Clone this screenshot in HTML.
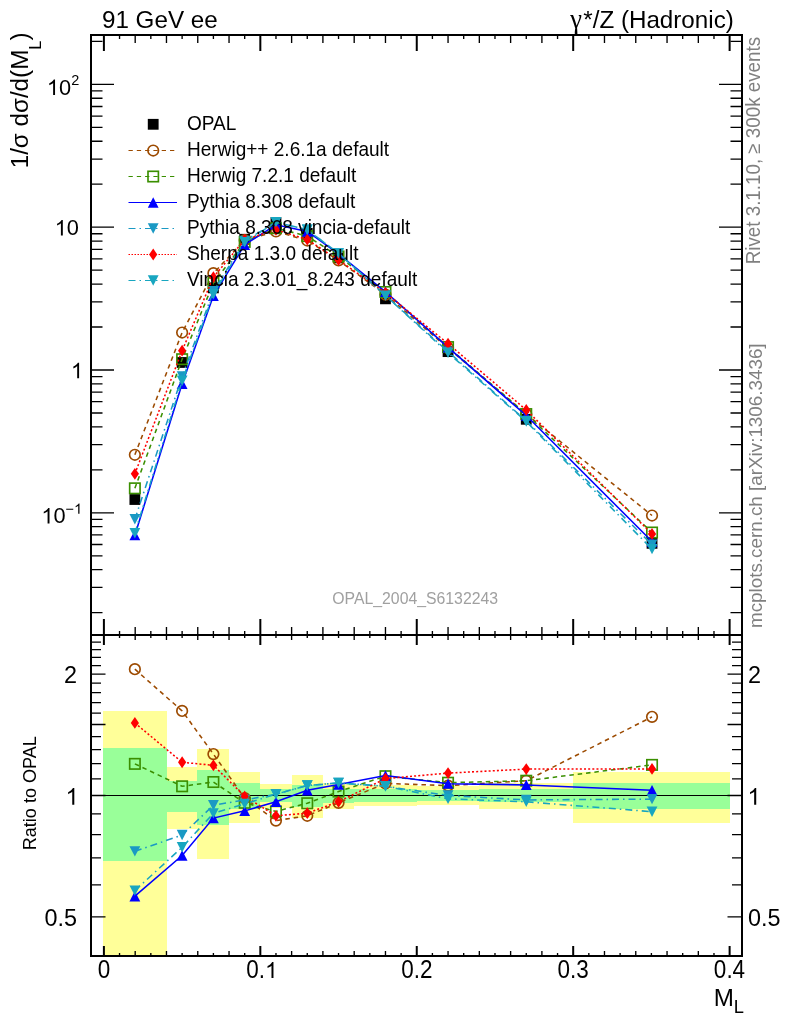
<!DOCTYPE html>
<html><head><meta charset="utf-8"><title>MC plot</title>
<style>html,body{margin:0;padding:0;background:#fff}body{width:786px;height:1024px;overflow:hidden}svg text{font-family:"Liberation Sans",sans-serif}</style></head>
<body>
<svg width="786" height="1024" viewBox="0 0 786 1024" style="display:block;will-change:transform">
<rect width="786" height="1024" fill="#fff"/>
<defs><clipPath id="cm"><rect x="91.0" y="35.0" width="651.0" height="600.0"/></clipPath><clipPath id="cr"><rect x="91.0" y="635.0" width="651.0" height="321.0"/></clipPath></defs>
<g clip-path="url(#cr)" shape-rendering="crispEdges">
<rect x="103.0" y="711.3" width="63.9" height="252.3" fill="#FFFF99"/>
<rect x="166.9" y="767.3" width="30.3" height="61.8" fill="#FFFF99"/>
<rect x="197.2" y="749.0" width="31.8" height="110.0" fill="#FFFF99"/>
<rect x="229.0" y="772.0" width="31.3" height="50.7" fill="#FFFF99"/>
<rect x="260.3" y="784.1" width="31.3" height="23.5" fill="#FFFF99"/>
<rect x="291.6" y="775.3" width="31.3" height="42.9" fill="#FFFF99"/>
<rect x="322.9" y="783.3" width="31.3" height="25.3" fill="#FFFF99"/>
<rect x="354.2" y="785.3" width="62.6" height="21.0" fill="#FFFF99"/>
<rect x="416.8" y="786.1" width="62.6" height="19.3" fill="#FFFF99"/>
<rect x="479.3" y="782.6" width="93.9" height="26.8" fill="#FFFF99"/>
<rect x="573.2" y="772.1" width="156.4" height="50.4" fill="#FFFF99"/>
<rect x="103.0" y="748.0" width="63.9" height="112.9" fill="#99FF99"/>
<rect x="166.9" y="780.6" width="30.3" height="31.2" fill="#99FF99"/>
<rect x="197.2" y="770.4" width="31.8" height="54.4" fill="#99FF99"/>
<rect x="229.0" y="783.2" width="31.3" height="25.5" fill="#99FF99"/>
<rect x="260.3" y="789.0" width="31.3" height="13.3" fill="#99FF99"/>
<rect x="291.6" y="784.6" width="31.3" height="22.4" fill="#99FF99"/>
<rect x="322.9" y="788.6" width="31.3" height="14.0" fill="#99FF99"/>
<rect x="354.2" y="789.3" width="62.6" height="12.6" fill="#99FF99"/>
<rect x="416.8" y="790.3" width="62.6" height="10.5" fill="#99FF99"/>
<rect x="479.3" y="788.9" width="93.9" height="13.5" fill="#99FF99"/>
<rect x="573.2" y="783.1" width="156.4" height="25.7" fill="#99FF99"/>
</g>
<line x1="91.0" y1="795.5" x2="742.0" y2="795.5" stroke="#000" stroke-width="1.1"/>
<g clip-path="url(#cm)">
<rect x="129.47" y="494.11" width="10.80" height="10.80" fill="#000"/>
<rect x="176.72" y="357.08" width="10.80" height="10.80" fill="#000"/>
<rect x="208.00" y="282.46" width="10.80" height="10.80" fill="#000"/>
<rect x="239.29" y="233.88" width="10.80" height="10.80" fill="#000"/>
<rect x="270.57" y="217.20" width="10.80" height="10.80" fill="#000"/>
<rect x="301.86" y="227.92" width="10.80" height="10.80" fill="#000"/>
<rect x="333.14" y="252.45" width="10.80" height="10.80" fill="#000"/>
<rect x="380.07" y="293.44" width="10.80" height="10.80" fill="#000"/>
<rect x="442.65" y="346.22" width="10.80" height="10.80" fill="#000"/>
<rect x="520.86" y="413.89" width="10.80" height="10.80" fill="#000"/>
<rect x="646.63" y="537.95" width="10.80" height="10.80" fill="#000"/>
<path d="M134.87 454.78L182.12 332.52L213.40 273.19L244.69 240.22L275.97 231.47L307.26 240.51L338.54 260.45L385.47 294.55L448.05 348.12L526.26 414.06L652.03 515.50" fill="none" stroke="#9C4A00" stroke-width="1.55" stroke-dasharray="4.5,3.9"/>
<circle cx="134.87" cy="454.78" r="5.30" fill="none" stroke="#9C4A00" stroke-width="1.65"/>
<circle cx="182.12" cy="332.52" r="5.30" fill="none" stroke="#9C4A00" stroke-width="1.65"/>
<circle cx="213.40" cy="273.19" r="5.30" fill="none" stroke="#9C4A00" stroke-width="1.65"/>
<circle cx="244.69" cy="240.22" r="5.30" fill="none" stroke="#9C4A00" stroke-width="1.65"/>
<circle cx="275.97" cy="231.47" r="5.30" fill="none" stroke="#9C4A00" stroke-width="1.65"/>
<circle cx="307.26" cy="240.51" r="5.30" fill="none" stroke="#9C4A00" stroke-width="1.65"/>
<circle cx="338.54" cy="260.45" r="5.30" fill="none" stroke="#9C4A00" stroke-width="1.65"/>
<circle cx="385.47" cy="294.55" r="5.30" fill="none" stroke="#9C4A00" stroke-width="1.65"/>
<circle cx="448.05" cy="348.12" r="5.30" fill="none" stroke="#9C4A00" stroke-width="1.65"/>
<circle cx="526.26" cy="414.06" r="5.30" fill="none" stroke="#9C4A00" stroke-width="1.65"/>
<circle cx="652.03" cy="515.50" r="5.30" fill="none" stroke="#9C4A00" stroke-width="1.65"/>
<path d="M134.87 488.31L182.12 359.21L213.40 283.09L244.69 241.88L275.97 228.24L307.26 236.07L338.54 256.46L385.47 292.01L448.05 347.09L526.26 414.06L652.03 532.51" fill="none" stroke="#3A8F00" stroke-width="1.55" stroke-dasharray="4.5,3.9"/>
<rect x="129.67" y="483.11" width="10.40" height="10.40" fill="none" stroke="#3A8F00" stroke-width="1.65"/>
<rect x="176.92" y="354.01" width="10.40" height="10.40" fill="none" stroke="#3A8F00" stroke-width="1.65"/>
<rect x="208.20" y="277.89" width="10.40" height="10.40" fill="none" stroke="#3A8F00" stroke-width="1.65"/>
<rect x="239.49" y="236.68" width="10.40" height="10.40" fill="none" stroke="#3A8F00" stroke-width="1.65"/>
<rect x="270.77" y="223.04" width="10.40" height="10.40" fill="none" stroke="#3A8F00" stroke-width="1.65"/>
<rect x="302.06" y="230.87" width="10.40" height="10.40" fill="none" stroke="#3A8F00" stroke-width="1.65"/>
<rect x="333.34" y="251.26" width="10.40" height="10.40" fill="none" stroke="#3A8F00" stroke-width="1.65"/>
<rect x="380.27" y="286.81" width="10.40" height="10.40" fill="none" stroke="#3A8F00" stroke-width="1.65"/>
<rect x="442.85" y="341.89" width="10.40" height="10.40" fill="none" stroke="#3A8F00" stroke-width="1.65"/>
<rect x="521.06" y="408.86" width="10.40" height="10.40" fill="none" stroke="#3A8F00" stroke-width="1.65"/>
<rect x="646.83" y="527.31" width="10.40" height="10.40" fill="none" stroke="#3A8F00" stroke-width="1.65"/>
<path d="M134.87 535.17L182.12 383.72L213.40 295.86L244.69 244.72L275.97 224.81L307.26 231.49L338.54 253.95L385.47 291.76L448.05 347.42L526.26 415.53L652.03 541.52" fill="none" stroke="#0000FF" stroke-width="1.55"/>
<path d="M129.47 540.37L140.27 540.37L134.87 529.97Z" fill="#0000FF"/>
<path d="M176.72 388.92L187.52 388.92L182.12 378.52Z" fill="#0000FF"/>
<path d="M208.00 301.06L218.80 301.06L213.40 290.66Z" fill="#0000FF"/>
<path d="M239.29 249.92L250.09 249.92L244.69 239.52Z" fill="#0000FF"/>
<path d="M270.57 230.01L281.37 230.01L275.97 219.61Z" fill="#0000FF"/>
<path d="M301.86 236.69L312.66 236.69L307.26 226.29Z" fill="#0000FF"/>
<path d="M333.14 259.15L343.94 259.15L338.54 248.75Z" fill="#0000FF"/>
<path d="M380.07 296.96L390.87 296.96L385.47 286.56Z" fill="#0000FF"/>
<path d="M442.65 352.62L453.45 352.62L448.05 342.22Z" fill="#0000FF"/>
<path d="M520.86 420.73L531.66 420.73L526.26 410.33Z" fill="#0000FF"/>
<path d="M646.63 546.72L657.43 546.72L652.03 536.32Z" fill="#0000FF"/>
<path d="M134.87 519.28L182.12 376.47L213.40 291.31L244.69 240.85L275.97 222.13L307.26 229.79L338.54 253.40L385.47 295.58L448.05 351.62L526.26 420.86L652.03 544.63" fill="none" stroke="#1A99C4" stroke-width="1.55" stroke-dasharray="7,4,1.5,4"/>
<path d="M129.47 514.08L140.27 514.08L134.87 524.48Z" fill="#1A99C4"/>
<path d="M176.72 371.27L187.52 371.27L182.12 381.67Z" fill="#1A99C4"/>
<path d="M208.00 286.11L218.80 286.11L213.40 296.51Z" fill="#1A99C4"/>
<path d="M239.29 235.65L250.09 235.65L244.69 246.05Z" fill="#1A99C4"/>
<path d="M270.57 216.93L281.37 216.93L275.97 227.33Z" fill="#1A99C4"/>
<path d="M301.86 224.59L312.66 224.59L307.26 234.99Z" fill="#1A99C4"/>
<path d="M333.14 248.20L343.94 248.20L338.54 258.60Z" fill="#1A99C4"/>
<path d="M380.07 290.38L390.87 290.38L385.47 300.78Z" fill="#1A99C4"/>
<path d="M442.65 346.42L453.45 346.42L448.05 356.82Z" fill="#1A99C4"/>
<path d="M520.86 415.66L531.66 415.66L526.26 426.06Z" fill="#1A99C4"/>
<path d="M646.63 539.43L657.43 539.43L652.03 549.83Z" fill="#1A99C4"/>
<path d="M134.87 473.83L182.12 350.70L213.40 277.18L244.69 239.59L275.97 229.78L307.26 239.58L338.54 260.06L385.47 292.86L448.05 343.69L526.26 409.94L652.03 533.94" fill="none" stroke="#FF0000" stroke-width="1.55" stroke-dasharray="2,2.15"/>
<path d="M134.87 467.93L138.97 473.83L134.87 479.73L130.77 473.83Z" fill="#FF0000"/>
<path d="M182.12 344.80L186.22 350.70L182.12 356.60L178.02 350.70Z" fill="#FF0000"/>
<path d="M213.40 271.28L217.50 277.18L213.40 283.08L209.30 277.18Z" fill="#FF0000"/>
<path d="M244.69 233.69L248.79 239.59L244.69 245.49L240.59 239.59Z" fill="#FF0000"/>
<path d="M275.97 223.88L280.07 229.78L275.97 235.68L271.87 229.78Z" fill="#FF0000"/>
<path d="M307.26 233.68L311.36 239.58L307.26 245.48L303.16 239.58Z" fill="#FF0000"/>
<path d="M338.54 254.16L342.64 260.06L338.54 265.96L334.44 260.06Z" fill="#FF0000"/>
<path d="M385.47 286.96L389.57 292.86L385.47 298.76L381.37 292.86Z" fill="#FF0000"/>
<path d="M448.05 337.79L452.15 343.69L448.05 349.59L443.95 343.69Z" fill="#FF0000"/>
<path d="M526.26 404.04L530.36 409.94L526.26 415.84L522.16 409.94Z" fill="#FF0000"/>
<path d="M652.03 528.04L656.13 533.94L652.03 539.84L647.93 533.94Z" fill="#FF0000"/>
<path d="M134.87 533.19L182.12 380.81L213.40 294.19L244.69 242.27L275.97 222.13L307.26 229.79L338.54 253.40L385.47 295.58L448.05 352.81L526.26 421.52L652.03 549.09" fill="none" stroke="#18A6C0" stroke-width="1.55" stroke-dasharray="7,4,1.5,4"/>
<path d="M129.47 527.99L140.27 527.99L134.87 538.39Z" fill="#18A6C0"/>
<path d="M176.72 375.61L187.52 375.61L182.12 386.01Z" fill="#18A6C0"/>
<path d="M208.00 288.99L218.80 288.99L213.40 299.39Z" fill="#18A6C0"/>
<path d="M239.29 237.07L250.09 237.07L244.69 247.47Z" fill="#18A6C0"/>
<path d="M270.57 216.93L281.37 216.93L275.97 227.33Z" fill="#18A6C0"/>
<path d="M301.86 224.59L312.66 224.59L307.26 234.99Z" fill="#18A6C0"/>
<path d="M333.14 248.20L343.94 248.20L338.54 258.60Z" fill="#18A6C0"/>
<path d="M380.07 290.38L390.87 290.38L385.47 300.78Z" fill="#18A6C0"/>
<path d="M442.65 347.61L453.45 347.61L448.05 358.01Z" fill="#18A6C0"/>
<path d="M520.86 416.32L531.66 416.32L526.26 426.72Z" fill="#18A6C0"/>
<path d="M646.63 543.89L657.43 543.89L652.03 554.29Z" fill="#18A6C0"/>
</g>
<g clip-path="url(#cr)">
<path d="M134.87 669.18L182.12 710.90L213.40 754.05L244.69 798.15L275.97 820.56L307.26 815.79L338.54 802.83L385.47 783.37L448.05 785.63L526.26 780.73L652.03 716.83" fill="none" stroke="#9C4A00" stroke-width="1.55" stroke-dasharray="4.5,3.9"/>
<circle cx="134.87" cy="669.18" r="5.30" fill="none" stroke="#9C4A00" stroke-width="1.65"/>
<circle cx="182.12" cy="710.90" r="5.30" fill="none" stroke="#9C4A00" stroke-width="1.65"/>
<circle cx="213.40" cy="754.05" r="5.30" fill="none" stroke="#9C4A00" stroke-width="1.65"/>
<circle cx="244.69" cy="798.15" r="5.30" fill="none" stroke="#9C4A00" stroke-width="1.65"/>
<circle cx="275.97" cy="820.56" r="5.30" fill="none" stroke="#9C4A00" stroke-width="1.65"/>
<circle cx="307.26" cy="815.79" r="5.30" fill="none" stroke="#9C4A00" stroke-width="1.65"/>
<circle cx="338.54" cy="802.83" r="5.30" fill="none" stroke="#9C4A00" stroke-width="1.65"/>
<circle cx="385.47" cy="783.37" r="5.30" fill="none" stroke="#9C4A00" stroke-width="1.65"/>
<circle cx="448.05" cy="785.63" r="5.30" fill="none" stroke="#9C4A00" stroke-width="1.65"/>
<circle cx="526.26" cy="780.73" r="5.30" fill="none" stroke="#9C4A00" stroke-width="1.65"/>
<circle cx="652.03" cy="716.83" r="5.30" fill="none" stroke="#9C4A00" stroke-width="1.65"/>
<path d="M134.87 763.86L182.12 786.29L213.40 782.02L244.69 802.83L275.97 811.44L307.26 803.25L338.54 791.57L385.47 776.20L448.05 782.70L526.26 780.73L652.03 764.89" fill="none" stroke="#3A8F00" stroke-width="1.55" stroke-dasharray="4.5,3.9"/>
<rect x="129.67" y="758.66" width="10.40" height="10.40" fill="none" stroke="#3A8F00" stroke-width="1.65"/>
<rect x="176.92" y="781.09" width="10.40" height="10.40" fill="none" stroke="#3A8F00" stroke-width="1.65"/>
<rect x="208.20" y="776.82" width="10.40" height="10.40" fill="none" stroke="#3A8F00" stroke-width="1.65"/>
<rect x="239.49" y="797.63" width="10.40" height="10.40" fill="none" stroke="#3A8F00" stroke-width="1.65"/>
<rect x="270.77" y="806.24" width="10.40" height="10.40" fill="none" stroke="#3A8F00" stroke-width="1.65"/>
<rect x="302.06" y="798.05" width="10.40" height="10.40" fill="none" stroke="#3A8F00" stroke-width="1.65"/>
<rect x="333.34" y="786.37" width="10.40" height="10.40" fill="none" stroke="#3A8F00" stroke-width="1.65"/>
<rect x="380.27" y="771.00" width="10.40" height="10.40" fill="none" stroke="#3A8F00" stroke-width="1.65"/>
<rect x="442.85" y="777.50" width="10.40" height="10.40" fill="none" stroke="#3A8F00" stroke-width="1.65"/>
<rect x="521.06" y="775.53" width="10.40" height="10.40" fill="none" stroke="#3A8F00" stroke-width="1.65"/>
<rect x="646.83" y="759.69" width="10.40" height="10.40" fill="none" stroke="#3A8F00" stroke-width="1.65"/>
<path d="M134.87 896.21L182.12 855.48L213.40 818.09L244.69 810.87L275.97 801.74L307.26 790.32L338.54 784.47L385.47 775.49L448.05 783.65L526.26 784.90L652.03 790.32" fill="none" stroke="#0000FF" stroke-width="1.55"/>
<path d="M129.47 901.41L140.27 901.41L134.87 891.01Z" fill="#0000FF"/>
<path d="M176.72 860.68L187.52 860.68L182.12 850.28Z" fill="#0000FF"/>
<path d="M208.00 823.29L218.80 823.29L213.40 812.89Z" fill="#0000FF"/>
<path d="M239.29 816.07L250.09 816.07L244.69 805.67Z" fill="#0000FF"/>
<path d="M270.57 806.94L281.37 806.94L275.97 796.54Z" fill="#0000FF"/>
<path d="M301.86 795.52L312.66 795.52L307.26 785.12Z" fill="#0000FF"/>
<path d="M333.14 789.67L343.94 789.67L338.54 779.27Z" fill="#0000FF"/>
<path d="M380.07 780.69L390.87 780.69L385.47 770.29Z" fill="#0000FF"/>
<path d="M442.65 788.85L453.45 788.85L448.05 778.45Z" fill="#0000FF"/>
<path d="M520.86 790.10L531.66 790.10L526.26 779.70Z" fill="#0000FF"/>
<path d="M646.63 795.52L657.43 795.52L652.03 785.12Z" fill="#0000FF"/>
<path d="M134.87 851.34L182.12 835.02L213.40 805.22L244.69 799.93L275.97 794.17L307.26 785.53L338.54 782.92L385.47 786.29L448.05 795.50L526.26 799.93L652.03 799.11" fill="none" stroke="#1A99C4" stroke-width="1.55" stroke-dasharray="7,4,1.5,4"/>
<path d="M129.47 846.14L140.27 846.14L134.87 856.54Z" fill="#1A99C4"/>
<path d="M176.72 829.82L187.52 829.82L182.12 840.22Z" fill="#1A99C4"/>
<path d="M208.00 800.02L218.80 800.02L213.40 810.42Z" fill="#1A99C4"/>
<path d="M239.29 794.73L250.09 794.73L244.69 805.13Z" fill="#1A99C4"/>
<path d="M270.57 788.97L281.37 788.97L275.97 799.37Z" fill="#1A99C4"/>
<path d="M301.86 780.33L312.66 780.33L307.26 790.73Z" fill="#1A99C4"/>
<path d="M333.14 777.72L343.94 777.72L338.54 788.12Z" fill="#1A99C4"/>
<path d="M380.07 781.09L390.87 781.09L385.47 791.49Z" fill="#1A99C4"/>
<path d="M442.65 790.30L453.45 790.30L448.05 800.70Z" fill="#1A99C4"/>
<path d="M520.86 794.73L531.66 794.73L526.26 805.13Z" fill="#1A99C4"/>
<path d="M646.63 793.91L657.43 793.91L652.03 804.31Z" fill="#1A99C4"/>
<path d="M134.87 722.97L182.12 762.26L213.40 765.33L244.69 796.38L275.97 815.79L307.26 813.18L338.54 801.74L385.47 778.60L448.05 773.11L526.26 769.10L652.03 768.90" fill="none" stroke="#FF0000" stroke-width="1.55" stroke-dasharray="2,2.15"/>
<path d="M134.87 717.07L138.97 722.97L134.87 728.87L130.77 722.97Z" fill="#FF0000"/>
<path d="M182.12 756.36L186.22 762.26L182.12 768.16L178.02 762.26Z" fill="#FF0000"/>
<path d="M213.40 759.43L217.50 765.33L213.40 771.23L209.30 765.33Z" fill="#FF0000"/>
<path d="M244.69 790.48L248.79 796.38L244.69 802.28L240.59 796.38Z" fill="#FF0000"/>
<path d="M275.97 809.89L280.07 815.79L275.97 821.69L271.87 815.79Z" fill="#FF0000"/>
<path d="M307.26 807.28L311.36 813.18L307.26 819.08L303.16 813.18Z" fill="#FF0000"/>
<path d="M338.54 795.84L342.64 801.74L338.54 807.64L334.44 801.74Z" fill="#FF0000"/>
<path d="M385.47 772.70L389.57 778.60L385.47 784.50L381.37 778.60Z" fill="#FF0000"/>
<path d="M448.05 767.21L452.15 773.11L448.05 779.01L443.95 773.11Z" fill="#FF0000"/>
<path d="M526.26 763.20L530.36 769.10L526.26 775.00L522.16 769.10Z" fill="#FF0000"/>
<path d="M652.03 763.00L656.13 768.90L652.03 774.80L647.93 768.90Z" fill="#FF0000"/>
<path d="M134.87 890.60L182.12 847.29L213.40 813.37L244.69 803.93L275.97 794.17L307.26 785.53L338.54 782.92L385.47 786.29L448.05 798.86L526.26 801.79L652.03 811.69" fill="none" stroke="#18A6C0" stroke-width="1.55" stroke-dasharray="7,4,1.5,4"/>
<path d="M129.47 885.40L140.27 885.40L134.87 895.80Z" fill="#18A6C0"/>
<path d="M176.72 842.09L187.52 842.09L182.12 852.49Z" fill="#18A6C0"/>
<path d="M208.00 808.17L218.80 808.17L213.40 818.57Z" fill="#18A6C0"/>
<path d="M239.29 798.73L250.09 798.73L244.69 809.13Z" fill="#18A6C0"/>
<path d="M270.57 788.97L281.37 788.97L275.97 799.37Z" fill="#18A6C0"/>
<path d="M301.86 780.33L312.66 780.33L307.26 790.73Z" fill="#18A6C0"/>
<path d="M333.14 777.72L343.94 777.72L338.54 788.12Z" fill="#18A6C0"/>
<path d="M380.07 781.09L390.87 781.09L385.47 791.49Z" fill="#18A6C0"/>
<path d="M442.65 793.66L453.45 793.66L448.05 804.06Z" fill="#18A6C0"/>
<path d="M520.86 796.59L531.66 796.59L526.26 806.99Z" fill="#18A6C0"/>
<path d="M646.63 806.49L657.43 806.49L652.03 816.89Z" fill="#18A6C0"/>
</g>
<g>
<rect x="147.80" y="118.90" width="10.80" height="10.80" fill="#000"/>
<line x1="128.5" y1="150.5" x2="177" y2="150.5" stroke="#9C4A00" stroke-width="1.1" stroke-dasharray="4.3,4"/>
<circle cx="153.20" cy="150.50" r="5.30" fill="none" stroke="#9C4A00" stroke-width="1.65"/>
<line x1="128.5" y1="176.5" x2="177" y2="176.5" stroke="#3A8F00" stroke-width="1.1" stroke-dasharray="4.3,4"/>
<rect x="148.00" y="171.30" width="10.40" height="10.40" fill="none" stroke="#3A8F00" stroke-width="1.65"/>
<line x1="128.5" y1="202.5" x2="177" y2="202.5" stroke="#0000FF" stroke-width="1.1"/>
<path d="M147.80 207.70L158.60 207.70L153.20 197.30Z" fill="#0000FF"/>
<line x1="128.5" y1="228.5" x2="177" y2="228.5" stroke="#1A99C4" stroke-width="1.1" stroke-dasharray="7,4,1.5,4"/>
<path d="M147.80 223.30L158.60 223.30L153.20 233.70Z" fill="#1A99C4"/>
<line x1="128.5" y1="254.5" x2="177" y2="254.5" stroke="#FF0000" stroke-width="1.1" stroke-dasharray="1.5,1.5"/>
<path d="M153.20 248.60L157.30 254.50L153.20 260.40L149.10 254.50Z" fill="#FF0000"/>
<line x1="128.5" y1="280.5" x2="177" y2="280.5" stroke="#18A6C0" stroke-width="1.1" stroke-dasharray="7,4,1.5,4"/>
<path d="M147.80 275.30L158.60 275.30L153.20 285.70Z" fill="#18A6C0"/>
<text transform="translate(187,129.5) scale(0.972,1)" font-size="19.6">OPAL</text>
<text transform="translate(187,155.5) scale(0.972,1)" font-size="19.6">Herwig++ 2.6.1a default</text>
<text transform="translate(187,181.6) scale(0.972,1)" font-size="19.6">Herwig 7.2.1 default</text>
<text transform="translate(187,207.6) scale(0.972,1)" font-size="19.6">Pythia 8.308 default</text>
<text transform="translate(187,233.6) scale(0.972,1)" font-size="19.6">Pythia 8.308 vincia-default</text>
<text transform="translate(187,259.6) scale(0.972,1)" font-size="19.6">Sherpa 1.3.0 default</text>
<text transform="translate(187,285.7) scale(0.972,1)" font-size="19.6">Vincia 2.3.01_8.243 default</text>
</g>
<g stroke="#000" fill="none">
<rect x="91.0" y="35.0" width="651.0" height="921.0" stroke-width="2"/>
<line x1="91.0" y1="635.0" x2="742.0" y2="635.0" stroke-width="2"/>
<path d="M103.90 35.0V51.0M260.33 35.0V51.0M416.76 35.0V51.0M573.19 35.0V51.0M729.62 35.0V51.0" stroke-width="2"/><path d="M119.54 35.0V39.0M135.19 35.0V43.0M150.83 35.0V39.0M166.47 35.0V43.0M182.12 35.0V39.0M197.76 35.0V43.0M213.40 35.0V39.0M229.04 35.0V43.0M244.69 35.0V39.0M275.97 35.0V39.0M291.62 35.0V43.0M307.26 35.0V39.0M322.90 35.0V43.0M338.54 35.0V39.0M354.19 35.0V43.0M369.83 35.0V39.0M385.47 35.0V43.0M401.12 35.0V39.0M432.40 35.0V39.0M448.05 35.0V43.0M463.69 35.0V39.0M479.33 35.0V43.0M494.98 35.0V39.0M510.62 35.0V43.0M526.26 35.0V39.0M541.90 35.0V43.0M557.55 35.0V39.0M588.83 35.0V39.0M604.48 35.0V43.0M620.12 35.0V39.0M635.76 35.0V43.0M651.40 35.0V39.0M667.05 35.0V43.0M682.69 35.0V39.0M698.33 35.0V43.0M713.98 35.0V39.0" stroke-width="1.35"/>
<path d="M103.90 635.0V619.0M260.33 635.0V619.0M416.76 635.0V619.0M573.19 635.0V619.0M729.62 635.0V619.0" stroke-width="2"/><path d="M119.54 635.0V631.0M135.19 635.0V627.0M150.83 635.0V631.0M166.47 635.0V627.0M182.12 635.0V631.0M197.76 635.0V627.0M213.40 635.0V631.0M229.04 635.0V627.0M244.69 635.0V631.0M275.97 635.0V631.0M291.62 635.0V627.0M307.26 635.0V631.0M322.90 635.0V627.0M338.54 635.0V631.0M354.19 635.0V627.0M369.83 635.0V631.0M385.47 635.0V627.0M401.12 635.0V631.0M432.40 635.0V631.0M448.05 635.0V627.0M463.69 635.0V631.0M479.33 635.0V627.0M494.98 635.0V631.0M510.62 635.0V627.0M526.26 635.0V631.0M541.90 635.0V627.0M557.55 635.0V631.0M588.83 635.0V631.0M604.48 635.0V627.0M620.12 635.0V631.0M635.76 635.0V627.0M651.40 635.0V631.0M667.05 635.0V627.0M682.69 635.0V631.0M698.33 635.0V627.0M713.98 635.0V631.0" stroke-width="1.35"/>
<path d="M103.90 635.0V645.0M260.33 635.0V645.0M416.76 635.0V645.0M573.19 635.0V645.0M729.62 635.0V645.0" stroke-width="2"/><path d="M119.54 635.0V637.9M135.19 635.0V640.0M150.83 635.0V637.9M166.47 635.0V640.0M182.12 635.0V637.9M197.76 635.0V640.0M213.40 635.0V637.9M229.04 635.0V640.0M244.69 635.0V637.9M275.97 635.0V637.9M291.62 635.0V640.0M307.26 635.0V637.9M322.90 635.0V640.0M338.54 635.0V637.9M354.19 635.0V640.0M369.83 635.0V637.9M385.47 635.0V640.0M401.12 635.0V637.9M432.40 635.0V637.9M448.05 635.0V640.0M463.69 635.0V637.9M479.33 635.0V640.0M494.98 635.0V637.9M510.62 635.0V640.0M526.26 635.0V637.9M541.90 635.0V640.0M557.55 635.0V637.9M588.83 635.0V637.9M604.48 635.0V640.0M620.12 635.0V637.9M635.76 635.0V640.0M651.40 635.0V637.9M667.05 635.0V640.0M682.69 635.0V637.9M698.33 635.0V640.0M713.98 635.0V637.9" stroke-width="1.35"/>
<path d="M103.90 956.0V946.0M260.33 956.0V946.0M416.76 956.0V946.0M573.19 956.0V946.0M729.62 956.0V946.0" stroke-width="2"/><path d="M119.54 956.0V953.1M135.19 956.0V951.0M150.83 956.0V953.1M166.47 956.0V951.0M182.12 956.0V953.1M197.76 956.0V951.0M213.40 956.0V953.1M229.04 956.0V951.0M244.69 956.0V953.1M275.97 956.0V953.1M291.62 956.0V951.0M307.26 956.0V953.1M322.90 956.0V951.0M338.54 956.0V953.1M354.19 956.0V951.0M369.83 956.0V953.1M385.47 956.0V951.0M401.12 956.0V953.1M432.40 956.0V953.1M448.05 956.0V951.0M463.69 956.0V953.1M479.33 956.0V951.0M494.98 956.0V953.1M510.62 956.0V951.0M526.26 956.0V953.1M541.90 956.0V951.0M557.55 956.0V953.1M588.83 956.0V953.1M604.48 956.0V951.0M620.12 956.0V953.1M635.76 956.0V951.0M651.40 956.0V953.1M667.05 956.0V951.0M682.69 956.0V953.1M698.33 956.0V951.0M713.98 956.0V953.1" stroke-width="1.35"/>
<path d="M91.0 612.61h11.5M742.0 612.61h-11.5M91.0 587.47h11.5M742.0 587.47h-11.5M91.0 569.63h11.5M742.0 569.63h-11.5M91.0 555.79h11.5M742.0 555.79h-11.5M91.0 544.48h11.5M742.0 544.48h-11.5M91.0 534.92h11.5M742.0 534.92h-11.5M91.0 526.64h11.5M742.0 526.64h-11.5M91.0 519.33h11.5M742.0 519.33h-11.5M91.0 512.80h23M742.0 512.80h-23M91.0 469.81h11.5M742.0 469.81h-11.5M91.0 444.67h11.5M742.0 444.67h-11.5M91.0 426.83h11.5M742.0 426.83h-11.5M91.0 412.99h11.5M742.0 412.99h-11.5M91.0 401.68h11.5M742.0 401.68h-11.5M91.0 392.12h11.5M742.0 392.12h-11.5M91.0 383.84h11.5M742.0 383.84h-11.5M91.0 376.53h11.5M742.0 376.53h-11.5M91.0 370.00h23M742.0 370.00h-23M91.0 327.01h11.5M742.0 327.01h-11.5M91.0 301.87h11.5M742.0 301.87h-11.5M91.0 284.03h11.5M742.0 284.03h-11.5M91.0 270.19h11.5M742.0 270.19h-11.5M91.0 258.88h11.5M742.0 258.88h-11.5M91.0 249.32h11.5M742.0 249.32h-11.5M91.0 241.04h11.5M742.0 241.04h-11.5M91.0 233.73h11.5M742.0 233.73h-11.5M91.0 227.20h23M742.0 227.20h-23M91.0 184.21h11.5M742.0 184.21h-11.5M91.0 159.07h11.5M742.0 159.07h-11.5M91.0 141.23h11.5M742.0 141.23h-11.5M91.0 127.39h11.5M742.0 127.39h-11.5M91.0 116.08h11.5M742.0 116.08h-11.5M91.0 106.52h11.5M742.0 106.52h-11.5M91.0 98.24h11.5M742.0 98.24h-11.5M91.0 90.93h11.5M742.0 90.93h-11.5M91.0 84.40h23M742.0 84.40h-23M91.0 41.41h11.5M742.0 41.41h-11.5" stroke-width="1.3"/>
<path d="M91.0 916.90h14.5M742.0 916.90h-14.5M91.0 884.97h10M742.0 884.97h-10M91.0 857.97h10M742.0 857.97h-10M91.0 834.58h10M742.0 834.58h-10M91.0 813.95h10M742.0 813.95h-10M91.0 795.50h14.5M742.0 795.50h-14.5M91.0 778.81h10M742.0 778.81h-10M91.0 763.57h10M742.0 763.57h-10M91.0 749.55h10M742.0 749.55h-10M91.0 736.57h10M742.0 736.57h-10M91.0 724.49h14.5M742.0 724.49h-14.5M91.0 713.18h10M742.0 713.18h-10M91.0 702.56h10M742.0 702.56h-10M91.0 692.55h10M742.0 692.55h-10M91.0 683.08h10M742.0 683.08h-10M91.0 674.10h14.5M742.0 674.10h-14.5M91.0 665.55h10M742.0 665.55h-10M91.0 657.41h10M742.0 657.41h-10M91.0 649.62h10M742.0 649.62h-10M91.0 642.17h10M742.0 642.17h-10" stroke-width="1.3"/>
</g>
<g fill="#000">
<g transform="translate(46.92,95.00) scale(1,1.03)"><path transform="translate(0.00,0.00) scale(0.01064,-0.01023)" d="M763 0H583V1147Q518 1085 412.5 1023T223 930V1104Q374 1175 487 1276T647 1472H763Z"/><text x="12.12" y="0.00" font-size="21.80">0</text><text x="24.25" y="-9.40" font-size="14.50">2</text></g>
<g transform="translate(54.70,235.40) scale(1,1.03)"><path transform="translate(0.00,0.00) scale(0.01064,-0.01023)" d="M763 0H583V1147Q518 1085 412.5 1023T223 930V1104Q374 1175 487 1276T647 1472H763Z"/><text x="12.12" y="0.00" font-size="21.80">0</text></g>
<g transform="translate(70.98,378.20) scale(1,1.03)"><path transform="translate(0.00,0.00) scale(0.01064,-0.01023)" d="M763 0H583V1147Q518 1085 412.5 1023T223 930V1104Q374 1175 487 1276T647 1472H763Z"/></g>
<g transform="translate(41.38,523.40) scale(1,1.03)"><path transform="translate(0.00,0.00) scale(0.01064,-0.01023)" d="M763 0H583V1147Q518 1085 412.5 1023T223 930V1104Q374 1175 487 1276T647 1472H763Z"/><text x="12.12" y="0.00" font-size="21.80">0</text><text x="24.25" y="-9.40" font-size="14.50">−</text><path transform="translate(32.71,-9.40) scale(0.00708,-0.00680)" d="M763 0H583V1147Q518 1085 412.5 1023T223 930V1104Q374 1175 487 1276T647 1472H763Z"/></g>
<g transform="translate(64.06,683.30) scale(1,1.04)"><text x="0.00" y="0.00" font-size="23.40">2</text></g>
<g transform="translate(748.02,683.30) scale(1,1.04)"><text x="0.00" y="0.00" font-size="23.40">2</text></g>
<g transform="translate(65.58,804.70) scale(1,1.04)"><path transform="translate(0.00,0.00) scale(0.01143,-0.01088)" d="M763 0H583V1147Q518 1085 412.5 1023T223 930V1104Q374 1175 487 1276T647 1472H763Z"/></g>
<g transform="translate(747.50,804.70) scale(1,1.04)"><path transform="translate(0.00,0.00) scale(0.01143,-0.01088)" d="M763 0H583V1147Q518 1085 412.5 1023T223 930V1104Q374 1175 487 1276T647 1472H763Z"/></g>
<g transform="translate(44.45,926.10) scale(1,1.04)"><text x="0.00" y="0.00" font-size="23.40">0</text><text x="13.01" y="0.00" font-size="23.40">.</text><text x="19.52" y="0.00" font-size="23.40">5</text></g>
<g transform="translate(748.09,926.10) scale(1,1.04)"><text x="0.00" y="0.00" font-size="23.40">0</text><text x="13.01" y="0.00" font-size="23.40">.</text><text x="19.52" y="0.00" font-size="23.40">5</text></g>
<g transform="translate(97.64,978.10) scale(1,1.12)"><text x="0.00" y="0.00" font-size="22.50">0</text></g>
<g transform="translate(246.32,978.10) scale(1,1.12)"><text x="0.00" y="0.00" font-size="22.50">0</text><text x="12.51" y="0.00" font-size="22.50">.</text><path transform="translate(18.76,0.00) scale(0.01099,-0.00971)" d="M763 0H583V1147Q518 1085 412.5 1023T223 930V1104Q374 1175 487 1276T647 1472H763Z"/></g>
<g transform="translate(401.25,978.10) scale(1,1.12)"><text x="0.00" y="0.00" font-size="22.50">0</text><text x="12.51" y="0.00" font-size="22.50">.</text><text x="18.76" y="0.00" font-size="22.50">2</text></g>
<g transform="translate(557.61,978.10) scale(1,1.12)"><text x="0.00" y="0.00" font-size="22.50">0</text><text x="12.51" y="0.00" font-size="22.50">.</text><text x="18.76" y="0.00" font-size="22.50">3</text></g>
<g transform="translate(713.87,978.10) scale(1,1.12)"><text x="0.00" y="0.00" font-size="22.50">0</text><text x="12.51" y="0.00" font-size="22.50">.</text><text x="18.76" y="0.00" font-size="22.50">4</text></g>
</g>
<text x="102" y="28.4" font-size="24.2">91 GeV ee</text>
<text x="733.8" y="28.4" font-size="24.2" text-anchor="end">*/Z (Hadronic)</text>
<text x="570.2" y="28.2" font-size="26.5" style="font-family:'Liberation Serif',serif">γ</text>
<text x="713.7" y="1005.6" font-size="24.2">M<tspan font-size="18.3" dy="7.2">L</tspan></text>
<text transform="translate(27.8,168.3) rotate(-90)" font-size="24.2">1/σ dσ/d(M<tspan font-size="16.5" dy="13.5">L</tspan><tspan dy="-13.5">)</tspan></text>
<text transform="translate(35.6,850.2) rotate(-90)" font-size="18.05">Ratio to OPAL</text>
<text x="415.2" y="604.2" font-size="15.8" text-anchor="middle" fill="#a0a0a0">OPAL_2004_S6132243</text>
<text transform="translate(759.5,264.3) rotate(-90)" font-size="19.7" fill="#808080" textLength="227.4" lengthAdjust="spacingAndGlyphs">Rivet 3.1.10, ≥ 300k events</text>
<text transform="translate(762.2,628) rotate(-90)" font-size="18.7" fill="#808080" textLength="284.6" lengthAdjust="spacingAndGlyphs">mcplots.cern.ch [arXiv:1306.3436]</text>
</svg>
</body></html>
